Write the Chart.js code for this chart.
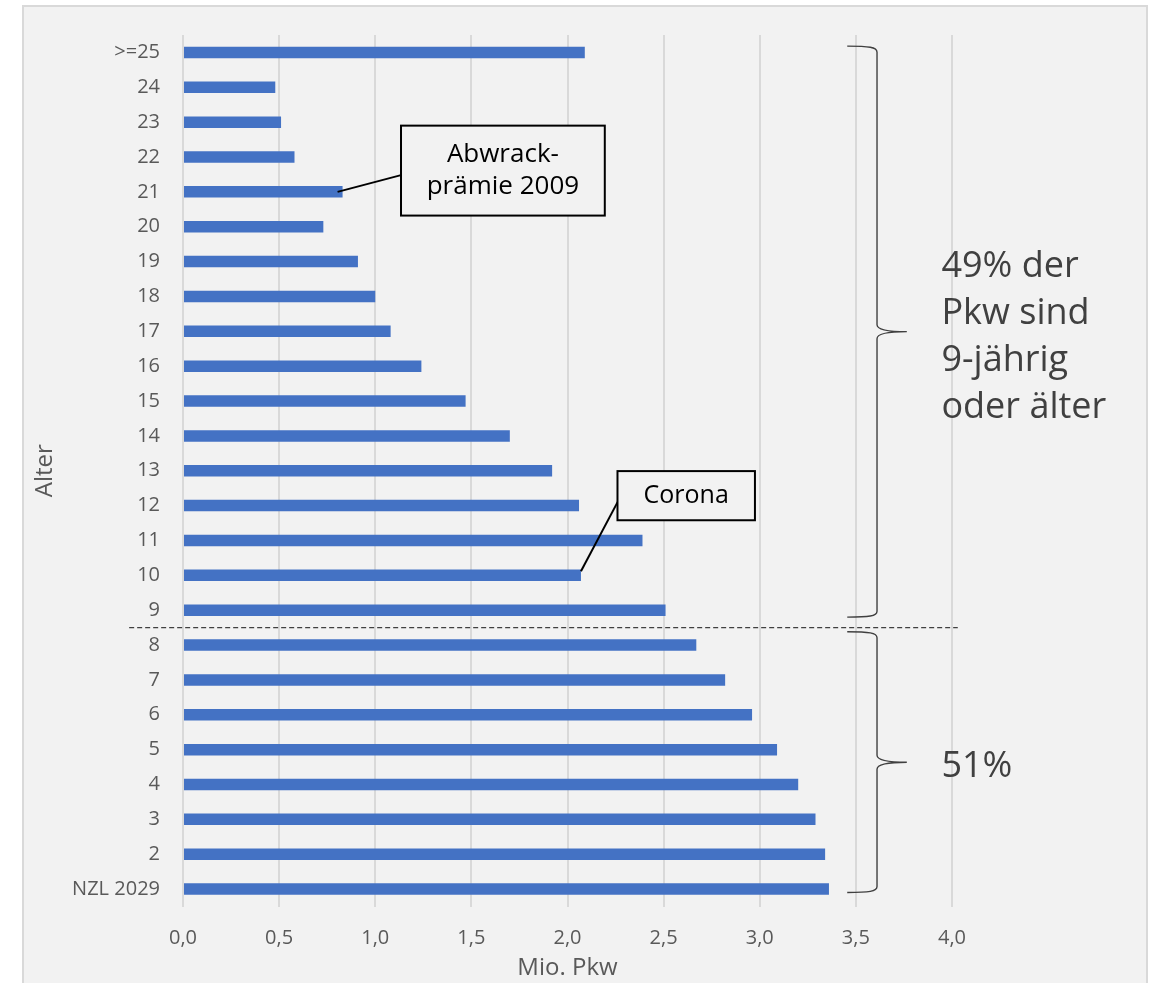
<!DOCTYPE html>
<html>
<head>
<meta charset="utf-8">
<script src="https://cdn.jsdelivr.net/npm/chart.js@4/dist/chart.umd.min.js"></script>
<style>
  html, body { margin: 0; padding: 0; background: #ffffff; }
  #frame {
    position: absolute; left: 22px; top: 5px; width: 1126px; height: 1000px;
    background: #f2f2f2; border: 2px solid #d9d9d9; box-sizing: border-box;
  }
  #c { position: absolute; left: 0; top: 0; }
</style>
</head>
<body>
<div id="frame"></div>
<canvas id="c" width="1152" height="983"></canvas>
<script>
// Pkw-Bestand nach Alter (Mio. Fahrzeuge)
const ageLabels = ['>=25', '24', '23', '22', '21', '20', '19', '18', '17', '16', '15', '14', '13',
  '12', '11', '10', '9', '8', '7', '6', '5', '4', '3', '2', 'NZL 2029'];
const vehiclesMio = [2.09, 0.48, 0.51, 0.58, 0.83, 0.73, 0.91, 1.00, 1.08, 1.24, 1.47, 1.70, 1.92,
  2.06, 2.39, 2.07, 2.51, 2.67, 2.82, 2.96, 3.09, 3.20, 3.29, 3.34, 3.36];
const xTickLabels = ['0,0', '0,5', '1,0', '1,5', '2,0', '2,5', '3,0', '3,5', '4,0'];
const xAxisTitle = 'Mio. Pkw';
const yAxisTitle = 'Alter';
const olderShareText = ['49% der', 'Pkw sind', '9-jährig', 'oder älter'];
const youngerShareText = ['51%'];
const scrappageNote = ['Abwrack-', 'prämie 2009'];
const coronaNote = ['Corona'];

const FONT = '"Open Sans", "Noto Sans", sans-serif';
const NOTE_COLOR = '#404040';

function drawBrace(ctx, xl, xm, xt, y0, y1) {
  const ym = (y0 + y1) / 2;
  ctx.beginPath();
  ctx.moveTo(xl, y0);
  ctx.bezierCurveTo(xm - 8, y0, xm, y0 + 1, xm, y0 + 6);
  ctx.lineTo(xm, ym - 7);
  ctx.quadraticCurveTo(xm, ym, xt, ym);
  ctx.moveTo(xt, ym);
  ctx.quadraticCurveTo(xm, ym, xm, ym + 7);
  ctx.lineTo(xm, y1 - 6);
  ctx.bezierCurveTo(xm, y1 - 1, xm - 8, y1, xl, y1);
  ctx.stroke();
}

function drawBox(ctx, left, top, right, bottom, lines, size) {
  ctx.fillStyle = '#f2f2f2';
  ctx.fillRect(left, top, right - left, bottom - top);
  ctx.strokeStyle = '#000000';
  ctx.lineWidth = 2;
  ctx.strokeRect(left, top, right - left, bottom - top);
  ctx.fillStyle = '#000000';
  ctx.font = size + 'px ' + FONT;
  ctx.textAlign = 'center';
  ctx.textBaseline = 'middle';
  const lh = size * 1.25;
  const cy = (top + bottom) / 2;
  lines.forEach((t, i) => {
    ctx.fillText(t, (left + right) / 2, cy + (i - (lines.length - 1) / 2) * lh);
  });
}

const notesPlugin = {
  id: 'notes',
  afterDraw(chart) {
    const { ctx, scales: { x, y } } = chart;
    const X = v => x.getPixelForValue(v);
    const step = y.getPixelForValue(1) - y.getPixelForValue(0);
    const Y = f => y.getPixelForValue(0) + f * step;
    const idx = lbl => ageLabels.indexOf(lbl);
    ctx.save();

    // Trennlinie zwischen 9 und 8 Jahren
    ctx.strokeStyle = NOTE_COLOR;
    ctx.lineWidth = 1.3;
    ctx.setLineDash([5, 3]);
    ctx.beginPath();
    const ySplit = Y(idx('9') + 0.5);
    ctx.moveTo(X(-0.28), ySplit);
    ctx.lineTo(X(4.03), ySplit);
    ctx.stroke();
    ctx.setLineDash([]);

    // Klammern
    ctx.strokeStyle = NOTE_COLOR;
    ctx.lineWidth = 1.4;
    const xl = X(3.455), xm = X(3.61), xt = X(3.765);
    const upTop = Y(-0.18), upBot = Y(idx('9') + 0.2);
    const loTop = Y(idx('8') - 0.38), loBot = Y(idx('NZL 2029') + 0.1);
    drawBrace(ctx, xl, xm, xt, upTop, upBot);
    drawBrace(ctx, xl, xm, xt, loTop, loBot);

    // Anteilstexte
    ctx.fillStyle = NOTE_COLOR;
    ctx.font = '36px ' + FONT;
    ctx.textAlign = 'left';
    ctx.textBaseline = 'middle';
    const lh = 47;
    const upMid = (upTop + upBot) / 2;
    olderShareText.forEach((t, i) => {
      ctx.fillText(t, X(3.945), upMid + 6 + (i - (olderShareText.length - 1) / 2) * lh);
    });
    const loMid = (loTop + loBot) / 2;
    ctx.fillText(youngerShareText[0], X(3.945), loMid + 5);

    // Hinweis Abwrackprämie
    const i21 = idx('21');
    const b1 = { l: X(1.134), t: Y(2.1), r: X(2.194), b: Y(4.68) };
    ctx.strokeStyle = '#000000';
    ctx.lineWidth = 2;
    ctx.beginPath();
    ctx.moveTo(X(vehiclesMio[i21]) - 5, Y(i21));
    ctx.lineTo(b1.l, Y(3.52));
    ctx.stroke();
    drawBox(ctx, b1.l, b1.t, b1.r, b1.b, scrappageNote, 26);

    // Hinweis Corona
    const i10 = idx('10');
    const b2 = { l: X(2.26), t: Y(12.01), r: X(2.975), b: Y(13.42) };
    ctx.beginPath();
    ctx.moveTo(X(vehiclesMio[i10]), Y(i10) - 4);
    ctx.lineTo(b2.l + 1, Y(12.85));
    ctx.stroke();
    drawBox(ctx, b2.l, b2.t, b2.r, b2.b, coronaNote, 25);

    ctx.restore();
  }
};

new Chart(document.getElementById('c'), {
  type: 'bar',
  data: {
    labels: ageLabels,
    datasets: [{
      data: vehiclesMio,
      backgroundColor: '#4472c4',
      borderWidth: 0,
      categoryPercentage: 1,
      barPercentage: 0.33
    }]
  },
  options: {
    indexAxis: 'y',
    responsive: false,
    animation: false,
    devicePixelRatio: 1,
    layout: { padding: { left: 23, right: 200, top: 34.6, bottom: 0 } },
    plugins: { legend: { display: false }, tooltip: { enabled: false } },
    scales: {
      x: {
        min: 0, max: 4,
        ticks: {
          stepSize: 0.5,
          padding: 20,
          color: '#595959',
          font: { family: FONT, size: 20 },
          callback: (v, i) => xTickLabels[i]
        },
        grid: { color: '#d9d9d9', lineWidth: 2, drawTicks: false },
        border: { display: false },
        title: {
          display: true, text: xAxisTitle, color: '#595959',
          font: { family: FONT, size: 24 }, padding: { top: 0, bottom: 0 }
        },
        afterFit(scale) { scale.height = 76.5; }
      },
      y: {
        ticks: {
          padding: 23,
          color: '#595959',
          font: { family: FONT, size: 20 },
          autoSkip: false
        },
        grid: { display: false, drawTicks: false },
        border: { display: false },
        title: {
          display: true, text: yAxisTitle, color: '#595959',
          font: { family: FONT, size: 24 }, padding: { top: 8, bottom: 0 }
        },
        afterFit(scale) { scale.width = 160; }
      }
    }
  },
  plugins: [notesPlugin]
});
</script>
</body>
</html>
